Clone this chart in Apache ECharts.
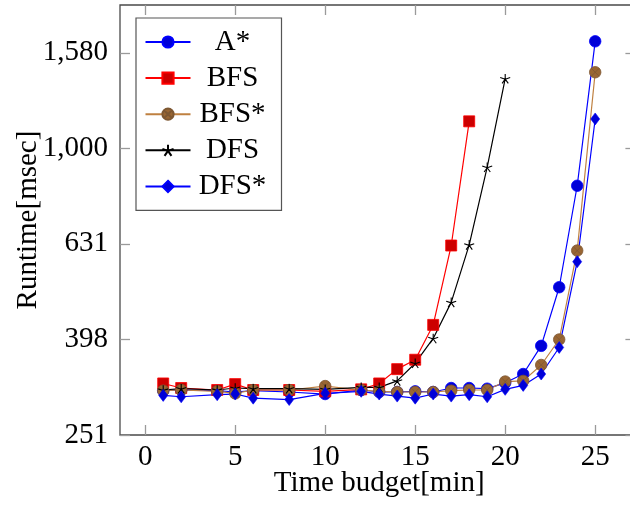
<!DOCTYPE html>
<html>
<head>
<meta charset="utf-8">
<title>Runtime vs time budget</title>
<script src="https://cdn.jsdelivr.net/npm/echarts@6/dist/echarts.min.js"></script>
<style>
  html, body { margin: 0; padding: 0; background: #ffffff; }
  #chart { width: 630px; height: 518px; }
</style>
</head>
<body>
<div id="chart"></div>
<script>
// Time budgets (minutes) at which each search was measured
const budgets = [1, 2, 4, 5, 6, 8, 10, 12, 13, 14, 15, 16, 17, 18, 19, 20, 21, 22, 23, 24, 25];

// Runtime in msec per algorithm (BFS and DFS stop early, at 18 and 20 min)
const aStar   = [311, 312, 311, 309, 311, 309, 306, 312, 309, 309, 310, 309, 315, 315, 314, 323, 337, 386, 512, 835, 1675];
const bfs     = [322, 315, 312, 321, 312, 312, 310, 313, 322, 345, 361, 427, 626, 1139];
const bfsStar = [311, 312, 310, 307, 312, 312, 318, 312, 310, 309, 309, 309, 311, 312, 312, 325, 326, 352, 398, 611, 1443];
const dfs     = [312, 314, 312, 315, 314, 314, 313, 316, 316, 326, 355, 400, 476, 628, 913, 1399];
const dfsStar = [304, 302, 305, 306, 300, 298, 307, 310, 306, 303, 300, 306, 303, 305, 302, 313, 319, 337, 383, 579, 1152];

// Axis ticks (y ticks sit at 10^2.4, 10^2.6, ... and print with 3 significant digits)
const xTicks = [0, 5, 10, 15, 20, 25];
const yTicks = [251.19, 398.11, 630.96, 1000, 1584.89];

const FONT = '"Liberation Serif", "DejaVu Serif", serif';
const FS = 29;
const X_MIN = -1.4, X_MAX = 27.4;
const Y_MIN = 251.18, Y_MAX = 1995.3;

function pairs(values) {
  return values.map(function (v, i) { return [budgets[i], v]; });
}
function tickText(v) {
  const r = Number(Number(v).toPrecision(3));
  return String(Math.round(r)).replace(/\B(?=(\d{3})+(?!\d))/g, ',');
}

// Marker shapes: circled cross and five-spoke star
const OTIMES = 'path://M10,0 A10,10 0 1,1 -10,0 A10,10 0 1,1 10,0 Z M7.07,7.07 L-7.07,-7.07 M-7.07,7.07 L7.07,-7.07';
const STAR = 'path://M0,0 L0,-10 M0,0 L9.51,-3.09 M0,0 L5.88,8.09 M0,0 L-5.88,8.09 M0,0 L-9.51,-3.09';

function lineSeries(name, values, color, opts) {
  return Object.assign({
    name: name,
    type: 'line',
    data: pairs(values),
    xAxisIndex: 0,
    yAxisIndex: 0,
    lineStyle: { color: color, width: 1.2 },
    emphasis: { disabled: true },
    animation: false,
    z: 3
  }, opts);
}

const noLine = { show: false, onZero: false };
const tickStyle = { color: '#9a9a9a', width: 1.3 };

const option = {
  backgroundColor: '#ffffff',
  animation: false,
  grid: {
    left: 120, top: 5, right: -8.4, bottom: 83,
    outerBoundsMode: 'none',
    containLabel: false,
    show: true, borderColor: '#4a4a4a', borderWidth: 1.3, backgroundColor: 'transparent'
  },
  legend: {
    orient: 'vertical',
    left: 136, top: 18,
    padding: [9.5, 12, 9.5, 8.5],
    itemWidth: 45, itemHeight: 14, itemGap: 7.1,
    backgroundColor: '#ffffff',
    borderColor: '#555555', borderWidth: 1.2,
    selectedMode: false,
    formatter: '{t|{name}}',
    textStyle: {
      rich: {
        t: { width: 74, align: 'center', fontSize: FS, lineHeight: 30, fontFamily: FONT, color: '#000' }
      }
    },
    data: ['A*', 'BFS', 'BFS*', 'DFS', 'DFS*']
  },
  xAxis: [{
    type: 'value', min: X_MIN, max: X_MAX, position: 'bottom',
    axisLine: noLine,
    splitLine: { show: false },
    axisTick: { inside: true, length: 10, lineStyle: tickStyle, customValues: xTicks },
    axisLabel: { customValues: xTicks, margin: 8, fontSize: FS, fontFamily: FONT, color: '#000' },
    name: 'Time budget[min]', nameLocation: 'middle', nameGap: 34, nameMoveOverlap: false,
    nameTextStyle: { fontSize: FS, fontFamily: FONT, color: '#000' }
  }, {
    type: 'value', min: X_MIN, max: X_MAX, position: 'top',
    axisLine: noLine,
    splitLine: { show: false },
    axisTick: { inside: true, length: 10, lineStyle: tickStyle, customValues: xTicks },
    axisLabel: { show: false }
  }],
  yAxis: [{
    type: 'log', logBase: 10, min: Y_MIN, max: Y_MAX, position: 'left',
    axisLine: noLine,
    splitLine: { show: false },
    minorTick: { show: false },
    axisTick: { inside: true, length: 10, lineStyle: tickStyle, customValues: yTicks },
    axisLabel: {
      customValues: yTicks, margin: 12, fontSize: FS, fontFamily: FONT, color: '#000',
      formatter: function (v) { return tickText(v); }
    },
    name: 'Runtime[msec]', nameLocation: 'middle', nameGap: 77, nameRotate: 90, nameMoveOverlap: false,
    nameTextStyle: { fontSize: FS, fontFamily: FONT, color: '#000' }
  }, {
    type: 'log', logBase: 10, min: Y_MIN, max: Y_MAX, position: 'right',
    axisLine: noLine,
    splitLine: { show: false },
    minorTick: { show: false },
    axisTick: { inside: true, length: 13, lineStyle: tickStyle, customValues: yTicks },
    axisLabel: { show: false }
  }],
  series: [
    lineSeries('A*', aStar, '#0000ff', {
      symbol: 'circle', symbolSize: 11.5,
      itemStyle: { color: '#0000d8', borderColor: '#0000ff', borderWidth: 0.8 }
    }),
    lineSeries('BFS', bfs, '#ff0000', {
      symbol: 'rect', symbolSize: 11,
      itemStyle: { color: '#cc0000', borderColor: '#ff0000', borderWidth: 0.8 }
    }),
    lineSeries('BFS*', bfsStar, '#bf8040', {
      symbol: OTIMES, symbolSize: 11.5, symbolKeepAspect: true,
      itemStyle: { color: '#996633', borderColor: '#7d5732', borderWidth: 0.8 }
    }),
    lineSeries('DFS', dfs, '#000000', {
      symbol: STAR, symbolSize: 10, symbolKeepAspect: true,
      itemStyle: { color: 'transparent', borderColor: '#000000', borderWidth: 1.1 }
    }),
    lineSeries('DFS*', dfsStar, '#0000ff', {
      symbol: 'diamond', symbolSize: [9, 12],
      itemStyle: { color: '#0000d8', borderColor: '#0000ff', borderWidth: 0.6 }
    })
  ]
};

const chart = echarts.init(document.getElementById('chart'), null, { renderer: 'canvas' });
chart.setOption(option);
</script>
</body>
</html>
